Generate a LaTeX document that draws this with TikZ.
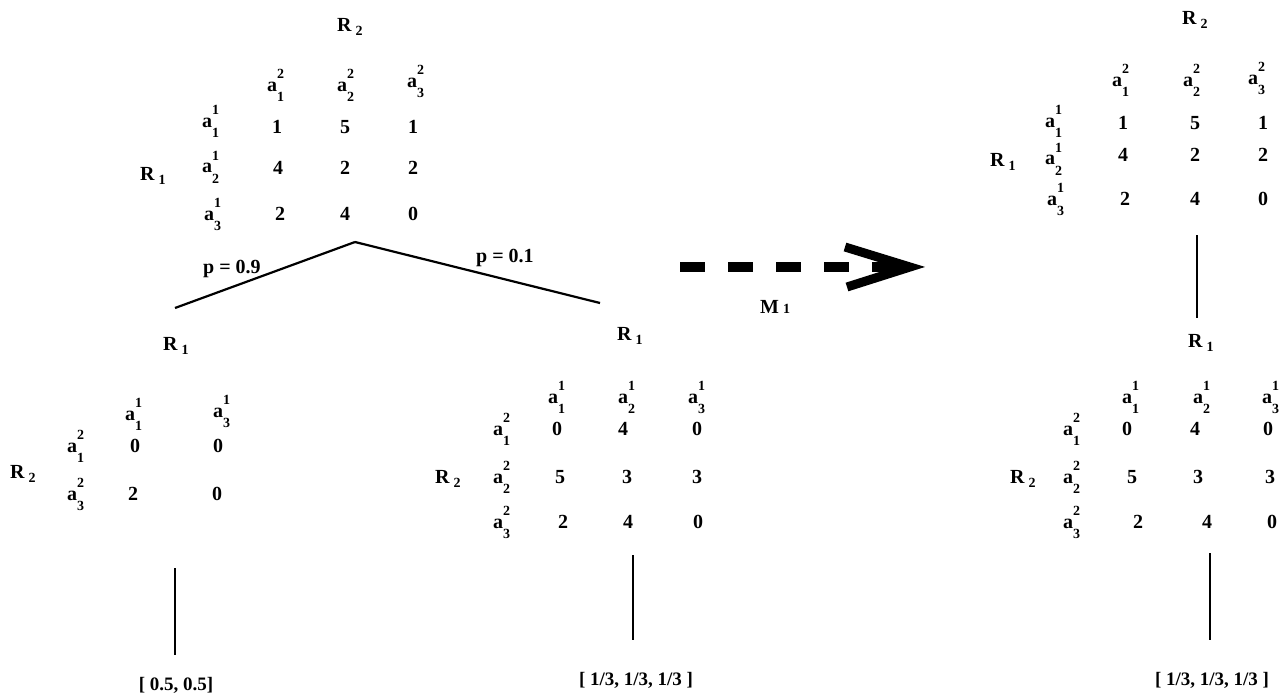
\documentclass[tikz,border=0pt]{standalone}
\usepackage{fontspec}
\setmainfont{Liberation Serif}
\newcommand\scr{\fontsize{14}{16}\selectfont}
\newcommand\act[2]{a\rlap{\raisebox{13pt}{\scr #1}}\raisebox{-10pt}{\scr #2}}
\newcommand\Rl[1]{R\kern4pt\raisebox{-4pt}{\scr #1}}
\begin{document}
\begin{tikzpicture}[x=1pt,y=-1pt,
  every node/.style={inner sep=0pt,font=\fontsize{20}{22}\selectfont\bfseries},
  lab/.style={anchor=base west},
  num/.style={anchor=base},
  dist/.style={anchor=base,font=\fontsize{19}{21}\selectfont\bfseries},
  edge/.style={line width=2.2pt},
  vline/.style={line width=1.8pt}]
\path[use as bounding box] (0,0) rectangle (1281,695);
% ---------- top-left matrix
\node[lab] (tlR2) at (337,32) {\Rl{2}};
\node[lab] (tlc1) at (267,92) {\act{2}{1}};
\node[lab] (tlc2) at (337,92) {\act{2}{2}};
\node[lab] (tlc3) at (407,88) {\act{2}{3}};
\node[lab] (tlr1) at (202,128) {\act{1}{1}};
\node[lab] (tlr2) at (202,173) {\act{1}{2}};
\node[lab] (tlr3) at (204,220) {\act{1}{3}};
\node[lab] (tlR1) at (140,180) {\Rl{1}};
\node[num] (tl11) at (277,134) {1};
\node[num] (tl12) at (345,134) {5};
\node[num] (tl13) at (413,134) {1};
\node[num] (tl21) at (278,175) {4};
\node[num] (tl22) at (345,175) {2};
\node[num] (tl23) at (413,175) {2};
\node[num] (tl31) at (280,220) {2};
\node[num] (tl32) at (345,220) {4};
\node[num] (tl33) at (413,220) {0};
% ---------- tree
\coordinate (apex) at (355,242);
\coordinate (lend) at (175,308);
\coordinate (rend) at (600,303);
\draw[edge] (apex) -- (lend);
\draw[edge] (apex) -- (rend);
\node[lab] (p9) at (203,273) {p = 0.9};
\node[lab] (p1) at (476,262) {p = 0.1};
% ---------- left bottom matrix
\node[lab] (lbR1) at (163,350) {\Rl{1}};
\node[lab] (lbc1) at (125,420) {\act{1}{1}};
\node[lab] (lbc3) at (213,417) {\act{1}{3}};
\node[lab] (lbr1) at (67,452) {\act{2}{1}};
\node[lab] (lbr3) at (67,500) {\act{2}{3}};
\node[lab] (lbR2) at (10,478) {\Rl{2}};
\node[num] (lb11) at (135,452) {0};
\node[num] (lb13) at (218,452) {0};
\node[num] (lb31) at (133,500) {2};
\node[num] (lb33) at (217,500) {0};
\coordinate (lbt) at (175,568);
\coordinate (lbb) at (175,655);
\draw[vline] (lbt) -- (lbb);
\node[dist] (lbdist) at (176,690) {[ 0.5, 0.5]};
% ---------- middle matrix
\node[lab] (mbR1) at (617,340) {\Rl{1}};
\node[lab] (mbc1) at (548,403) {\act{1}{1}};
\node[lab] (mbc2) at (618,403) {\act{1}{2}};
\node[lab] (mbc3) at (688,403) {\act{1}{3}};
\node[lab] (mbr1) at (493,435) {\act{2}{1}};
\node[lab] (mbr2) at (493,483) {\act{2}{2}};
\node[lab] (mbr3) at (493,528) {\act{2}{3}};
\node[lab] (mbR2) at (435,483) {\Rl{2}};
\node[num] (mb11) at (557,435) {0};
\node[num] (mb12) at (623,435) {4};
\node[num] (mb13) at (697,435) {0};
\node[num] (mb21) at (560,483) {5};
\node[num] (mb22) at (627,483) {3};
\node[num] (mb23) at (697,483) {3};
\node[num] (mb31) at (563,528) {2};
\node[num] (mb32) at (628,528) {4};
\node[num] (mb33) at (698,528) {0};
\coordinate (mbt) at (633,555);
\coordinate (mbb) at (633,640);
\draw[vline] (mbt) -- (mbb);
\node[dist] (mbdist) at (636,685) {[ 1/3, 1/3, 1/3 ]};
% ---------- arrow
\coordinate (arS) at (680,267);
\coordinate (arE) at (900,267);
\coordinate (arU) at (845,247);
\coordinate (arT) at (910,267);
\coordinate (arL) at (847,287);
\draw[line width=10pt,dash pattern=on 25pt off 23pt] (arS) -- (arE);
\draw[line width=9pt,line join=miter] (arU) -- (arT) -- (arL);
\node[lab] (M1) at (760,313) {M\kern4pt{\scr 1}};
% ---------- right top matrix
\node[lab] (rtR2) at (1182,25) {\Rl{2}};
\node[lab] (rtc1) at (1112,87) {\act{2}{1}};
\node[lab] (rtc2) at (1183,87) {\act{2}{2}};
\node[lab] (rtc3) at (1248,85) {\act{2}{3}};
\node[lab] (rtr1) at (1045,128) {\act{1}{1}};
\node[lab] (rtr2) at (1045,165) {\act{1}{2}};
\node[lab] (rtr3) at (1047,205) {\act{1}{3}};
\node[lab] (rtR1) at (990,167) {\Rl{1}};
\node[num] (rt11) at (1123,130) {1};
\node[num] (rt12) at (1195,130) {5};
\node[num] (rt13) at (1263,130) {1};
\node[num] (rt21) at (1123,162) {4};
\node[num] (rt22) at (1195,162) {2};
\node[num] (rt23) at (1263,162) {2};
\node[num] (rt31) at (1125,205) {2};
\node[num] (rt32) at (1195,205) {4};
\node[num] (rt33) at (1263,205) {0};
\coordinate (rtt) at (1197,235);
\coordinate (rtb) at (1197,318);
\draw[vline] (rtt) -- (rtb);
% ---------- right bottom matrix
\node[lab] (rbR1) at (1188,347) {\Rl{1}};
\node[lab] (rbc1) at (1122,403) {\act{1}{1}};
\node[lab] (rbc2) at (1193,403) {\act{1}{2}};
\node[lab] (rbc3) at (1262,403) {\act{1}{3}};
\node[lab] (rbr1) at (1063,435) {\act{2}{1}};
\node[lab] (rbr2) at (1063,483) {\act{2}{2}};
\node[lab] (rbr3) at (1063,528) {\act{2}{3}};
\node[lab] (rbR2) at (1010,483) {\Rl{2}};
\node[num] (rb11) at (1127,435) {0};
\node[num] (rb12) at (1195,435) {4};
\node[num] (rb13) at (1268,435) {0};
\node[num] (rb21) at (1132,483) {5};
\node[num] (rb22) at (1198,483) {3};
\node[num] (rb23) at (1270,483) {3};
\node[num] (rb31) at (1138,528) {2};
\node[num] (rb32) at (1207,528) {4};
\node[num] (rb33) at (1272,528) {0};
\coordinate (rbt) at (1210,553);
\coordinate (rbb) at (1210,640);
\draw[vline] (rbt) -- (rbb);
\node[dist] (rbdist) at (1212,685) {[ 1/3, 1/3, 1/3 ]};
\end{tikzpicture}
\end{document}
